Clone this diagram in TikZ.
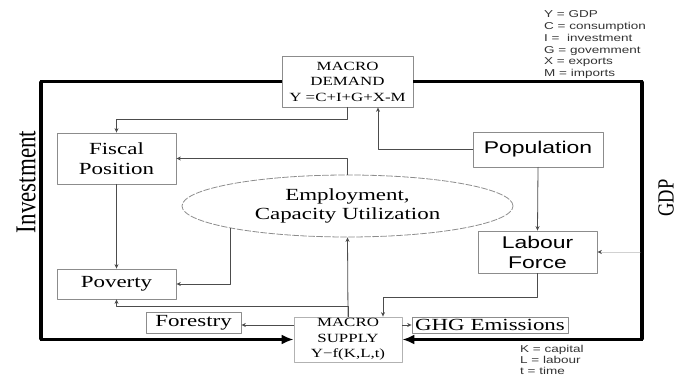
\documentclass[tikz,border=0pt]{standalone}
\usepackage{fontspec}
\setmainfont{Liberation Serif}
\newfontfamily\serifw{Liberation Serif}[FakeStretch=1.35]
\newfontfamily\sansw{Liberation Sans}[FakeStretch=1.35]
\usetikzlibrary{arrows.meta,shapes.geometric}

\begin{document}
\begin{tikzpicture}[x=1pt,y=-1pt,line cap=round,line join=round,
  box/.style={draw=black!45,line width=0.8pt,inner sep=0pt,align=center},
  link/.style={draw=black!70,line width=0.8pt,-{Stealth[length=4.5pt,width=4pt]}},
  loopline/.style={line width=2.2pt,line cap=butt,line join=miter},
  bigtip/.style={-{Latex[length=12pt,width=10pt]}},
  serifbig/.style={font=\serifw\fontsize{17}{19.5}\selectfont},
  serifsmall/.style={font=\serifw\fontsize{12.5}{15.5}\selectfont},
  sansbig/.style={font=\sansw\fontsize{17}{20}\selectfont},
  legend/.style={font=\sansw\fontsize{10}{11.8}\selectfont,align=left,inner sep=0pt,text=black!80}]
  \useasboundingbox (0,0) rectangle (683,377);
  \node[box,serifsmall,minimum width=131pt,minimum height=51pt] (demand) at (347.5,81.5) {MACRO\\DEMAND\\Y =C+I+G+X-M};
  \node[box,serifsmall,minimum width=108pt,minimum height=45pt,draw=black!30] (supply) at (348,339.5) {MACRO\\SUPPLY\\Y−f(K,L,t)};
  \node[box,serifbig,minimum width=119pt,minimum height=51pt] (fiscal) at (116.5,158.5) {Fiscal\\Position};
  \node[box,serifbig,minimum width=119pt,minimum height=30pt] (poverty) at (116.5,284) {Poverty};
  \node[box,serifbig,minimum width=95pt,minimum height=21pt] (forestry) at (193.5,322.5) {Forestry};
  \node[box,serifbig,minimum width=156pt,minimum height=16pt] (ghg) at (490,325) {GHG Emissions};
  \node[box,sansbig,minimum width=130pt,minimum height=35pt] (pop) at (538,149.5) {Population};
  \node[box,sansbig,minimum width=119pt,minimum height=42pt] (labour) at (537.5,252) {Labour\\Force};
  \node[ellipse,draw=black!45,line width=0.8pt,dash pattern=on 6pt off 2pt,inner sep=0pt,
    minimum width=331pt,minimum height=62pt,serifbig,align=center] (emp) at (347.5,206) {Employment,\\Capacity Utilization};
  \node[rotate=90,yscale=1.25,font=\fontsize{23}{23}\selectfont] (inv) at (26,182) {Investment};
  \node[rotate=90,yscale=1.25,font=\fontsize{18.5}{18.5}\selectfont] (gdp) at (666,198) {GDP};
  \node[legend,anchor=north west] (defs) at (544,10.5) {Y = GDP\\C = consumption\\I =\ \ investment\\G = govemment\\X = exports\\M = imports};
  \node[legend,anchor=north west,font=\sansw\fontsize{10}{10.8}\selectfont] (fdefs) at (520,345) {K = capital\\L = labour\\t = time};
  \coordinate (tl) at (41,81.5);
  \coordinate (bl) at (41,339.5);
  \coordinate (tr) at (642,81.5);
  \coordinate (br) at (642,339.5);
  \coordinate (gdpin) at (640,252);
  \draw[loopline,bigtip] (demand.west) -- (tl) -- (bl) -- (supply.west);
  \draw[loopline,bigtip] (demand.east) -- (tr) -- (br) -- (supply.east);
  \draw[line width=4.2pt] ([yshift=-1.1pt]tl) -- ([yshift=1.1pt]bl);
  \draw[line width=4.2pt] ([yshift=-1.1pt]tr) -- ([yshift=1.1pt]br);
  \draw[link] (demand.south) -- ++(0,12) -| (fiscal.north);
  \draw[link] (pop.west) -| ([xshift=30.5pt]demand.south);
  \draw[link] (emp.north) |- (fiscal.east);
  \draw[link] (fiscal.south) -- (poverty.north);
  \draw[link] (emp.south west) |- (poverty.east);
  \draw[link] (supply.north) -- (emp.south);
  \draw[link] (supply.north) -- ++(0,-10) -| (poverty.south);
  \draw[link] (supply.west |- 0,325) -- (forestry.east |- 0,325);
  \draw[link] (supply.east |- ghg.west) -- (ghg.west);
  \draw[link] (pop.south) -- (labour.north);
  \draw[link] (labour.south) -- ++(0,24) -| ([xshift=35pt]supply.north);
  \draw[link,draw=black!18,-{Stealth[length=4.5pt,width=4pt,color=black!70]}] (gdpin) -- (labour.east);
\end{tikzpicture}
\end{document}
